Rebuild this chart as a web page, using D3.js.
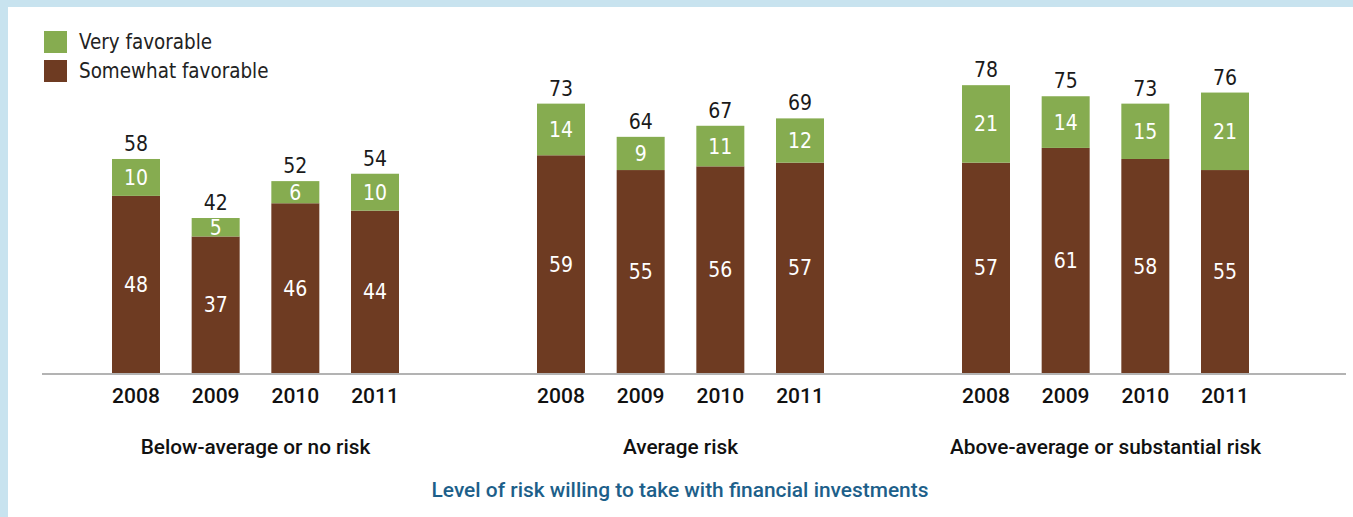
<!DOCTYPE html>
<html><head><meta charset="utf-8">
<script src="https://cdn.jsdelivr.net/npm/d3@7"></script>
<style>
html,body{margin:0;padding:0;background:#fff;}
svg{display:block;}
text{font-family:"DejaVu Sans Condensed","DejaVu Sans",sans-serif;}
.lab{font-family:Roboto,"DejaVu Sans Condensed",sans-serif;font-weight:500;}
</style></head>
<body>
<script>
const groups = ["Below-average or no risk", "Average risk", "Above-average or substantial risk"];
const years = ["2008", "2009", "2010", "2011"];
const somewhat = [[48, 37, 46, 44], [59, 55, 56, 57], [57, 61, 58, 55]];
const very = [[10, 5, 6, 10], [14, 9, 11, 12], [21, 14, 15, 21]];
const totals = [[58, 42, 52, 54], [73, 64, 67, 69], [78, 75, 73, 76]];
const seriesNames = ["Very favorable", "Somewhat favorable"];
const xTitle = "Level of risk willing to take with financial investments";

const W = 1353, H = 517;
const colGreen = "#86ac50", colBrown = "#6e3b22";
const svg = d3.select("body").append("svg").attr("width", W).attr("height", H);

// border
svg.append("rect").attr("x", 0).attr("y", 0).attr("width", W).attr("height", H).attr("fill", "#c8e3ef");
svg.append("rect").attr("x", 8).attr("y", 7).attr("width", W - 8).attr("height", H - 7).attr("fill", "#fff");

const baseY = 373;
const y = d3.scaleLinear().domain([0, 100]).range([baseY, baseY - 369]);
const x0 = d3.scaleBand().domain(groups).range([112, 1249]).paddingInner(0.3247).paddingOuter(0);
const x1 = d3.scaleBand().domain(years).range([0, x0.bandwidth()]).paddingInner(0.3975).paddingOuter(0);

const data = [];
groups.forEach((g, gi) => years.forEach((yr, yi) => data.push({
  g, yr, s: somewhat[gi][yi], v: very[gi][yi], t: totals[gi][yi]
})));

const bars = svg.append("g");
data.forEach(d => {
  const bx = x0(d.g) + x1(d.yr), bw = x1.bandwidth();
  bars.append("rect").attr("x", bx).attr("y", y(d.s)).attr("width", bw).attr("height", y(0) - y(d.s)).attr("fill", colBrown);
  bars.append("rect").attr("x", bx).attr("y", y(d.s + d.v)).attr("width", bw).attr("height", y(d.s) - y(d.s + d.v)).attr("fill", colGreen);
  bars.append("text").attr("x", bx + bw / 2).attr("y", (y(0) + y(d.s)) / 2).attr("dy", "0.36em")
    .attr("text-anchor", "middle").attr("fill", "#fff").attr("font-size", 21).text(d.s);
  bars.append("text").attr("x", bx + bw / 2).attr("y", (y(d.s) + y(d.s + d.v)) / 2).attr("dy", "0.36em")
    .attr("text-anchor", "middle").attr("fill", "#fff").attr("font-size", 21).text(d.v);
  bars.append("text").attr("x", bx + bw / 2).attr("y", y(d.t) - 8)
    .attr("text-anchor", "middle").attr("fill", "#1a1a1a").attr("font-size", 21).text(d.t);
});

// baseline
svg.append("line").attr("x1", 42).attr("x2", 1346).attr("y1", baseY + 1).attr("y2", baseY + 1)
  .attr("stroke", "#b3b3b3").attr("stroke-width", 2);

// year axis per group
groups.forEach(g => {
  const ax = d3.axisBottom(x1).tickSize(0).tickPadding(0);
  const a = svg.append("g").attr("transform", `translate(${x0(g)},${baseY + 30})`).call(ax);
  a.select(".domain").remove();
  a.selectAll("text").attr("class", "lab").attr("font-size", 21).attr("fill", "#111")
    .attr("dy", 0).attr("font-family", null);
});

// group labels
svg.append("g").selectAll("text").data(groups).join("text").attr("class", "lab")
  .attr("x", d => x0(d) + x0.bandwidth() / 2).attr("y", 454)
  .attr("text-anchor", "middle").attr("font-size", 20.8).attr("fill", "#111").text(d => d);

// axis title
svg.append("text").attr("class", "lab").attr("x", 680).attr("y", 497).attr("text-anchor", "middle")
  .attr("font-size", 20.9).attr("fill", "#1d5f8a").text(xTitle);

// legend
const leg = svg.append("g");
[colGreen, colBrown].forEach((c, i) => {
  leg.append("rect").attr("x", 44).attr("y", 31 + i * 29).attr("width", 23).attr("height", 22).attr("fill", c);
  leg.append("text").attr("x", 79).attr("y", 42 + i * 29).attr("dy", "0.36em").attr("font-size", 20.4)
    .attr("fill", "#222").text(seriesNames[i]);
});
</script>
</body></html>
